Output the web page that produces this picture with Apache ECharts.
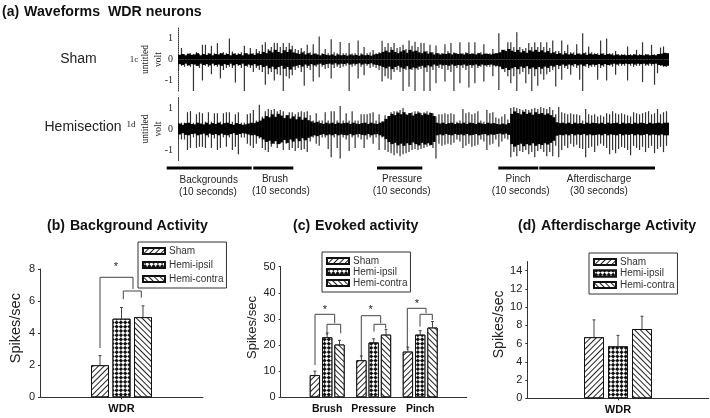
<!DOCTYPE html>
<html>
<head>
<meta charset="utf-8">
<script src="https://cdn.jsdelivr.net/npm/echarts@6/dist/echarts.min.js"></script>
<style>
html, body { margin: 0; padding: 0; background: #fff; }
#main { width: 710px; height: 418px; }
</style>
</head>
<body>
<div id="main"></div>
<script>
// waveform envelopes, one value per bin (volts)
const shamUp = [
  .25,.55,.25,.25,.3,.25,.35,.25,.7,.7,
  .3,.65,.3,.78,.3,.35,.3,1.0,.38,.3,
  .3,.35,.65,.3,.55,.3,.5,.4,.7,.82,
  .5,.6,.8,.78,.6,.78,.6,.78,.65,.5,
  .45,.55,.4,.7,.35,.73,.3,1.1,.3,.5,
  .3,.97,.35,.3,.83,.3,.3,.78,.28,.3,
  .9,.3,.6,.3,.35,.45,.3,.35,.89,.6,
  .78,.6,.78,.55,.6,.7,.5,.9,.65,.85,
  .6,.8,.78,.4,.7,.35,.67,.3,.3,.73,
  .4,.78,.35,.3,.82,.3,.35,.82,.3,.82,
  .3,.35,.73,.3,.3,.5,.3,1.25,.35,.46,
  .82,.82,.6,1.3,.6,.5,.55,.78,.6,.82,
  .6,.82,.6,.82,.55,.9,.4,.4,.9,.4,
  .7,.35,.35,.73,.3,1.25,.35,.62,.35,.3,
  .3,.9,.3,1.0,.3,.3,.4,.25,.25,.25,
  .62,.25,.25,.46,.25,.82,.25,.25,.7,.25,
  .25,.57,.62,.3
];
const shamDown = [
  .5,.3,.35,.3,.35,1.5,.3,.4,1.0,.3,
  .35,.7,.3,.35,.9,.5,.4,.35,.4,1.1,
  .3,.4,1.5,.35,.4,.6,.4,.5,.6,1.2,
  .7,.6,1.0,.7,.75,1.55,.8,.9,.75,.5,
  .4,.6,1.25,.4,.5,1.05,.35,.85,.35,.45,
  .4,.9,.4,.35,.4,.35,.3,1.55,.35,.3,
  .9,.35,.75,.3,.4,.35,.4,.5,1.05,.8,
  .9,.97,.6,.5,.6,1.5,.5,1.3,.5,1.55,
  .5,.45,1.5,.6,1.5,.5,1.13,.4,.45,1.05,
  .5,.6,1.55,.4,1.13,.4,.5,1.33,.4,1.13,
  .4,.35,1.05,.35,.35,.8,.35,1.45,.4,.6,
  .8,1.13,.8,1.55,.7,.6,1.13,.7,1.55,.8,
  1.25,.7,.97,.7,.6,.5,1.28,.45,.97,.4,
  .45,.73,.35,.4,.97,1.5,.35,.4,.35,.35,
  .97,.4,.35,1.0,.3,.35,.73,.3,.3,.3,
  1.0,.3,.35,.3,.3,1.08,.3,.3,.3,1.2,
  .65,.3,.35,.35
];
const shamCore = [
  .22,.26,.2,.28,.22,.24,.3,.2,.26,.22,
  .28,.2,.26,.24,.3,.22,.26,.2,.28,.22,
  .26,.2,.3,.24,.28,.22,.3,.26,.36,.3,
  .42,.34,.46,.36,.3,.44,.36,.48,.34,.3,
  .26,.34,.24,.3,.22,.28,.24,.2,.26,.22,
  .2,.24,.18,.24,.2,.22,.18,.24,.2,.22,
  .18,.24,.2,.22,.18,.24,.26,.3,.36,.42,
  .34,.46,.36,.3,.38,.44,.32,.46,.38,.42,
  .34,.3,.38,.28,.34,.24,.3,.24,.28,.26,
  .3,.24,.3,.26,.28,.24,.3,.26,.28,.24,
  .3,.24,.28,.26,.24,.28,.3,.34,.46,.4,
  .5,.42,.36,.46,.34,.4,.32,.44,.38,.46,
  .36,.44,.34,.4,.3,.34,.26,.3,.24,.3,
  .24,.28,.22,.28,.24,.3,.22,.28,.24,.26,
  .22,.28,.22,.26,.24,.2,.24,.2,.22,.2,
  .22,.2,.24,.2,.22,.2,.24,.2,.22,.2,
  .26,.28,.32,.3
];
const hemiUp = [
  .3,.3,.3,.8,.85,.3,.7,.8,.75,.35,
  .8,.35,.75,.75,.35,.75,.8,.8,.35,.7,
  .8,.3,.3,.7,.75,.9,.4,1.15,.6,.85,
  .95,.9,.95,.85,.9,.85,.6,.8,.8,.7,
  .8,.85,.8,.85,.65,.4,.75,.4,.4,.8,
  .4,.85,.85,.4,1.1,.4,.75,.4,.85,.4,
  .4,.7,.7,.7,.75,.8,.4,.7,.35,.65,
  .5,.8,.85,.85,.9,1.0,.7,.75,.8,.85,
  .85,.75,.8,.85,.8,.75,.6,.7,.7,.75,
  .7,.75,.7,.35,.4,.95,.75,.8,.7,.75,
  .85,.4,.35,.9,.75,.8,.55,.5,.6,.7,
  .45,1.0,1.05,1.0,.95,.9,.95,.9,.95,1.0,
  .95,1.05,1.0,.95,1.05,.9,.7,1.05,.8,.75,
  .7,.75,.7,.7,.65,.4,.95,.7,.65,.7,
  .6,.65,.6,.75,.7,.85,.75,.7,.75,.7,
  .65,.6,.8,.75,.7,.75,.8,.85,.7,.75,
  .95,.7,.8,.85
];
const hemiDown = [
  .5,.5,.5,1.0,.9,.4,.9,.85,.85,.9,
  .4,.9,.45,1.0,.9,.4,.85,.4,1.0,.85,
  1.2,.4,.4,.7,.8,.9,.7,.45,.9,1.0,
  1.1,.85,.7,.9,.7,1.0,.7,1.0,.9,1.05,
  .9,1.0,.95,1.1,.6,.4,.7,.8,.4,.4,
  .95,1.35,.4,.9,1.4,.4,.5,1.05,.4,.9,
  .4,.5,.9,.5,.4,.7,.4,1.0,.4,1.0,
  1.1,1.15,1.25,1.15,1.3,1.2,1.15,1.1,1.0,.95,
  1.0,.95,.9,.85,.8,.9,1.4,.7,.8,.75,
  .7,.75,.65,.5,.6,.9,.8,.7,.85,.8,
  .75,.5,.6,1.0,.75,.7,.5,.85,.6,.45,
  .5,1.35,1.1,1.3,1.05,1.1,1.0,1.2,1.1,1.35,
  1.05,.95,1.1,1.3,1.1,1.3,.8,1.35,1.0,.8,
  .9,.7,.85,.75,.9,.95,1.35,.9,.85,1.1,
  .8,.7,.8,.9,1.2,1.0,1.15,.95,.85,.9,
  1.0,1.25,.8,.9,1.0,.85,1.1,.9,.8,1.15,
  .95,.85,1.1,.8
];
const hemiCore = [
  .26,.2,.28,.3,.24,.22,.3,.26,.22,.3,
  .22,.28,.24,.3,.22,.28,.3,.24,.2,.28,
  .24,.2,.22,.26,.3,.28,.34,.4,.5,.62,
  .56,.7,.58,.72,.64,.52,.66,.5,.6,.46,
  .58,.44,.54,.42,.36,.3,.34,.28,.24,.3,
  .26,.3,.24,.3,.26,.28,.3,.24,.3,.26,
  .24,.28,.3,.24,.3,.26,.24,.3,.36,.48,
  .62,.72,.66,.78,.7,.8,.68,.76,.64,.72,
  .78,.66,.74,.68,.76,.62,.3,.26,.3,.24,
  .28,.3,.24,.28,.26,.3,.24,.3,.28,.24,
  .3,.26,.24,.3,.26,.28,.24,.22,.26,.22,
  .28,.72,.84,.76,.7,.82,.72,.78,.68,.8,
  .72,.76,.68,.74,.66,.56,.32,.28,.3,.26,
  .3,.24,.3,.26,.28,.24,.3,.26,.3,.28,
  .26,.3,.24,.3,.26,.28,.3,.24,.3,.26,
  .28,.24,.3,.26,.3,.28,.24,.3,.26,.28,
  .3,.26,.3,.3
];

// (b) Background Activity
const bgCategories = ['WDR'];
const bgSham = [2.0], bgIpsil = [4.9], bgContra = [5.0];
const bgShamTop = [2.6], bgIpsilTop = [5.6], bgContraTop = [5.7];

// (c) Evoked activity, blank ends keep the axis running past the groups
const evCategories = ['', 'Brush', 'Pressure', 'Pinch', ''];
const evSham = [null, 8.5, 14.2, 17.5, null];
const evIpsil = [null, 23, 21, 24, null];
const evContra = [null, 20.2, 24, 26.7, null];
const evShamTop = [null, 10, 15.8, 19.2, null];
const evIpsilTop = [null, 24.6, 22.4, 25.5, null];
const evContraTop = [null, 21.8, 26, 29, null];

// (d) Afterdischarge Activity
const adCategories = ['WDR'];
const adSham = [6.7], adIpsil = [5.7], adContra = [7.6];
const adShamTop = [8.6], adIpsilTop = [6.9], adContraTop = [9.0];

const groupNames = ['Sham', 'Hemi-ipsil', 'Hemi-contra'];

const SANS = '"Liberation Sans", Arial, sans-serif';
const SERIF = '"Liberation Serif", "Times New Roman", serif';
const INK = '#222';

const decals = [
  { symbol: 'rect', symbolSize: 1, rotation: -Math.PI / 4, dashArrayX: [1, 0], dashArrayY: [1, 3], color: '#222', backgroundColor: '#fff' },
  { symbol: 'rect', symbolSize: 1, rotation: Math.PI / 4, dashArrayX: [[3, 3], [0, 3, 3, 0]], dashArrayY: [3, 0], color: '#111', backgroundColor: '#fff' },
  { symbol: 'rect', symbolSize: 1, rotation: Math.PI / 4, dashArrayX: [1, 0], dashArrayY: [1, 3], color: '#222', backgroundColor: '#fff' }
];

// waveform panel: thin spikes plus the wider solid core
function waveSeries(idx, up, down, core) {
  const base = { type: 'bar', xAxisIndex: idx, yAxisIndex: idx, silent: true, animation: false };
  const neg = arr => arr.map(v => -v);
  return [
    Object.assign({}, base, { stack: 's' + idx, barWidth: 1.2, barGap: '-100%', data: up, itemStyle: { color: '#333' } }),
    Object.assign({}, base, { stack: 's' + idx, barWidth: 1.2, barGap: '-100%', data: neg(down), itemStyle: { color: '#333' } }),
    Object.assign({}, base, { stack: 'c' + idx, barWidth: 3.2, barGap: '-100%', data: core, itemStyle: { color: '#000' } }),
    Object.assign({}, base, { stack: 'c' + idx, barWidth: 3.2, barGap: '-100%', data: neg(core), itemStyle: { color: '#000' } })
  ];
}

function barSeries(idx, values, tops, barWidth, gap) {
  const gapPct = (gap / barWidth * 100) + '%';
  const out = values.map((vals, k) => ({
    type: 'bar', name: groupNames[k], xAxisIndex: idx, yAxisIndex: idx,
    data: vals, barWidth: barWidth, barGap: gapPct, animation: false,
    itemStyle: { color: '#fff', borderColor: '#111', borderWidth: 1, decal: decals[k] }
  }));
  // upward-only error bars
  const errData = [];
  tops.forEach((arr, k) => arr.forEach((t, c) => {
    if (t !== null) errData.push([c, values[k][c], t, k]);
  }));
  out.push({
    type: 'custom', xAxisIndex: idx, yAxisIndex: idx, data: errData, animation: false, silent: true,
    renderItem: function (params, api) {
      const dx = (api.value(3) - 1) * (barWidth + gap);
      const a = api.coord([api.value(0), api.value(1)]);
      const b = api.coord([api.value(0), api.value(2)]);
      const x = a[0] + dx;
      return {
        type: 'group',
        children: [
          { type: 'line', shape: { x1: x, y1: a[1], x2: x, y2: b[1] }, style: { stroke: '#444', lineWidth: 1 } },
          { type: 'line', shape: { x1: x - 1.5, y1: b[1], x2: x + 1.5, y2: b[1] }, style: { stroke: '#444', lineWidth: 1 } }
        ]
      };
    }
  });
  return out;
}

function waveAxis(idx) {
  return {
    type: 'value', gridIndex: idx, min: -1.5, max: 1.5, interval: 0.5,
    name: 'untitled\nvolt', nameLocation: 'middle', nameGap: 13, nameMoveOverlap: false,
    nameTextStyle: { fontFamily: SERIF, fontSize: 9.5, lineHeight: 13, color: INK },
    splitLine: { show: false },
    axisLine: { show: true, onZero: false, lineStyle: { color: '#333', type: 'dotted', width: 1 } },
    axisTick: { show: false },
    axisLabel: {
      fontFamily: SERIF, fontSize: 10, color: INK, margin: 5,
      formatter: v => (Number.isInteger(v) && Math.abs(v) <= 1) ? String(v) : ''
    }
  };
}

function barYAxis(idx, max, interval, nameGap, nameSize, shift) {
  return {
    type: 'value', gridIndex: idx, min: 0, max: max, interval: interval,
    name: 'Spikes/sec', nameLocation: 'middle', nameGap: nameGap,
    nameTextStyle: { fontFamily: SANS, fontSize: nameSize, color: INK, padding: [0, 0, 0, shift] },
    splitLine: { show: false },
    axisLine: { show: true, lineStyle: { color: '#333' } },
    axisTick: { show: true, length: 2, lineStyle: { color: '#333' } },
    axisLabel: { fontFamily: SANS, fontSize: 11, color: INK, margin: 5, showMaxLabel: max % interval === 0 }
  };
}

function barXAxis(idx, cats, onBand, size) {
  return {
    type: 'category', gridIndex: idx, data: cats, boundaryGap: onBand,
    axisLine: { lineStyle: { color: '#333' } },
    axisTick: { show: onBand, alignWithLabel: true, length: 2, lineStyle: { color: '#333' } },
    axisLabel: { fontFamily: SANS, fontSize: size, fontWeight: 'bold', color: '#111', margin: 6, interval: 0 }
  };
}

function panelLegend(left, top, width, gap) {
  return {
    data: groupNames, orient: 'vertical', left: left, top: top, width: width,
    itemWidth: 22, itemHeight: 6, itemGap: gap, padding: [4, 3, 4, 4],
    borderColor: '#333', borderWidth: 1, backgroundColor: '#fff',
    selectedMode: false, icon: 'rect',
    textStyle: { fontFamily: SANS, fontSize: 10, color: '#333', padding: [0, 0, 0, -1] }
  };
}

function panelTitle(left, top, tag, text) {
  return {
    left: left, top: top, padding: 0,
    text: '{t|' + tag + '} {m|' + text + '}',
    textStyle: {
      rich: {
        t: { fontFamily: SANS, fontSize: 14, fontWeight: 'bold', color: '#111' },
        m: { fontFamily: SANS, fontSize: 14.2, fontWeight: 'bold', color: '#111' }
      }
    }
  };
}

function label(x, y, text, size, font, align) {
  return { type: 'text', x: x, y: y, style: { text: text, fontSize: size, fontFamily: font || SANS, fill: INK, align: align || 'center', verticalAlign: 'middle' } };
}
function stimBar(x1, x2) {
  return { type: 'rect', shape: { x: x1, y: 166.5, width: x2 - x1, height: 3 }, style: { fill: '#000' } };
}
function bracket(points) {
  return { type: 'polyline', shape: { points: points }, style: { stroke: '#444', fill: null, lineWidth: 1 } };
}

const bins = shamUp.map((v, i) => i);

const option = {
  animation: false,
  backgroundColor: '#fff',
  title: [
    panelTitle(2, 3, '(a)', 'Waveforms  WDR neurons'),
    panelTitle(47, 217, '(b)', 'Background Activity'),
    panelTitle(293, 217, '(c)', 'Evoked activity'),
    panelTitle(518, 217, '(d)', 'Afterdischarge Activity')
  ],
  legend: [panelLegend(138, 242, 88, 4), panelLegend(322, 252, 86, 1), panelLegend(589, 253, 83, 1.5)],
  grid: [
    { left: 178, top: 28, width: 491, height: 63 },
    { left: 178, top: 97.5, width: 491, height: 63 },
    { left: 40, top: 269, width: 163, height: 128.3 },
    { left: 280.7, top: 266.7, width: 186, height: 130.6 },
    { left: 527.3, top: 261.5, width: 181.4, height: 136.8 }
  ],
  xAxis: [
    { type: 'category', gridIndex: 0, data: bins, show: false },
    { type: 'category', gridIndex: 1, data: bins, show: false },
    barXAxis(2, bgCategories, true, 11),
    barXAxis(3, evCategories, false, 10.5),
    barXAxis(4, adCategories, true, 11)
  ],
  yAxis: [
    waveAxis(0),
    waveAxis(1),
    barYAxis(2, 8, 2, 17, 14.5, 10),
    barYAxis(3, 50, 10, 22, 13, 9),
    barYAxis(4, 15, 2, 20, 14, 11)
  ],
  series: [].concat(
    waveSeries(0, shamUp, shamDown, shamCore),
    waveSeries(1, hemiUp, hemiDown, hemiCore),
    barSeries(2, [bgSham, bgIpsil, bgContra], [bgShamTop, bgIpsilTop, bgContraTop], 18, 3.5),
    barSeries(3, [evSham, evIpsil, evContra], [evShamTop, evIpsilTop, evContraTop], 10.3, 2),
    barSeries(4, [adSham, adIpsil, adContra], [adShamTop, adIpsilTop, adContraTop], 20, 4)
  ),
  graphic: [
    label(78.5, 59.5, 'Sham', 14),
    label(83, 127.5, 'Hemisection', 14),
    label(134, 59.5, '1c', 9, SERIF),
    label(131, 125, '1d', 9, SERIF),
    stimBar(166.7, 251.7), stimBar(253.3, 293.3), stimBar(377, 422.3), stimBar(498.3, 538.3), stimBar(539.3, 655),
    label(208.7, 180, 'Backgrounds', 10), label(208, 192, '(10 seconds)', 10),
    label(275, 179, 'Brush', 10), label(281, 191, '(10 seconds)', 10),
    label(402, 179, 'Pressure', 10), label(401.7, 191.5, '(10 seconds)', 10),
    label(518, 179, 'Pinch', 10), label(520.7, 191, '(10 seconds)', 10),
    label(599, 179, 'Afterdischarge', 10), label(599, 191, '(30 seconds)', 10),
    // significance brackets
    bracket([[100, 348], [100, 277.3], [133, 277.3], [133, 289]]),
    bracket([[123.3, 299.3], [123.3, 291], [141.3, 291], [141.3, 297.7]]),
    label(116, 267, '*', 11),
    bracket([[315, 365], [315, 314.3], [334.7, 314.3], [334.7, 323.3]]),
    bracket([[327, 335], [327, 324.3], [340.7, 324.3], [340.7, 333.3]]),
    label(325, 310, '*', 11),
    bracket([[361.3, 358.3], [361.3, 315.7], [380.7, 315.7], [380.7, 323.3]]),
    bracket([[374, 331.7], [374, 324.3], [385.7, 324.3], [385.7, 328.3]]),
    label(370.7, 310, '*', 11),
    bracket([[407.3, 350], [407.3, 308.3], [426, 308.3], [426, 313.3]]),
    bracket([[420, 326.7], [420, 314.3], [432.3, 314.3], [432.3, 320]]),
    label(417, 304, '*', 11)
  ]
};

const chart = echarts.init(document.getElementById('main'), null, { renderer: 'canvas' });
chart.setOption(option);
</script>
</body>
</html>
